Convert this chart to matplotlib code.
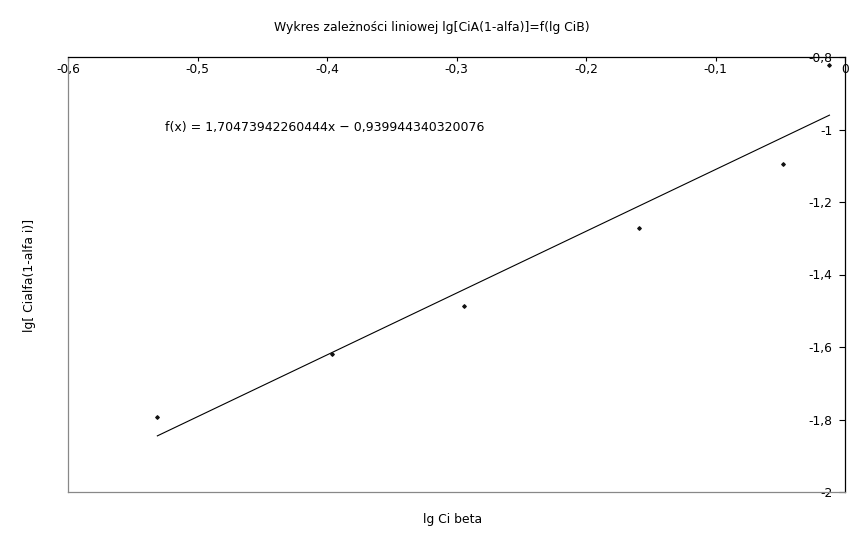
# Wykres zaleznosci liniowej lg[CiA(1-alfa)] = f(lg CiB)
import matplotlib
matplotlib.use("Agg")
import matplotlib.pyplot as plt
from matplotlib.ticker import FuncFormatter
import numpy as np

# data
lg_ci_beta = [-0.531, -0.396, -0.294, -0.159, -0.048, -0.012]
lg_ci_alfa = [-1.793, -1.619, -1.487, -1.272, -1.095, -0.822]

# regression from the chart label
slope = 1.70473942260444
intercept = -0.939944340320076

x_ticks = [-0.6, -0.5, -0.4, -0.3, -0.2, -0.1, 0.0]
y_ticks = [-2.0, -1.8, -1.6, -1.4, -1.2, -1.0, -0.8]


def comma(v, pos=None):
    s = f"{v:.1f}".replace(".", ",")
    if s in ("0,0", "-0,0"):
        return "0"
    if s.endswith(",0"):
        s = s[:-2]
    return s


fig = plt.figure(figsize=(8.66, 5.48), dpi=100)
ax = fig.add_axes([68 / 866, 1 - 492 / 548, (845 - 68) / 866, (492 - 57) / 548])

ax.scatter(lg_ci_beta, lg_ci_alfa, s=3, marker="D", color="#111111", zorder=3)
xs = np.array([lg_ci_beta[0], lg_ci_beta[-1]])
ax.plot(xs, slope * xs + intercept, color="black", lw=0.8)

ax.set_xlim(-0.6, 0)
ax.set_ylim(-2, -0.8)
ax.set_xticks(x_ticks)
ax.set_yticks(y_ticks)
ax.xaxis.set_major_formatter(FuncFormatter(comma))
ax.yaxis.set_major_formatter(FuncFormatter(comma))

# ticks and labels sit inside the frame, on top and right
ax.xaxis.tick_top()
ax.yaxis.tick_right()
ax.tick_params(axis="x", direction="in", length=3, width=0.8, pad=-14, labelsize=8.8)
ax.tick_params(axis="y", direction="in", length=4, width=0.8, pad=-9, labelsize=8.8)
plt.setp(ax.get_yticklabels(), ha="right")

for side in ("top", "right"):
    ax.spines[side].set_color("black")
    ax.spines[side].set_linewidth(0.9)
for side in ("left", "bottom"):
    ax.spines[side].set_color("#888888")
    ax.spines[side].set_linewidth(0.9)

ax.text(0.125, 0.838, "f(x) = 1,70473942260444x \u2212 0,939944340320076",
        transform=ax.transAxes, fontsize=9, va="center", ha="left")

fig.text(432 / 866, 1 - 27 / 548, "Wykres zależności liniowej lg[CiA(1-alfa)]=f(lg CiB)",
         ha="center", va="center", fontsize=8.9)
fig.text(453 / 866, 1 - 520 / 548, "lg Ci beta", ha="center", va="center", fontsize=8.9)
fig.text(30 / 866, 1 - 275 / 548, "lg[ Cialfa(1-alfa i)]", ha="center", va="center",
         rotation=90, fontsize=8.9)

fig.savefig("out.png", dpi=100)
